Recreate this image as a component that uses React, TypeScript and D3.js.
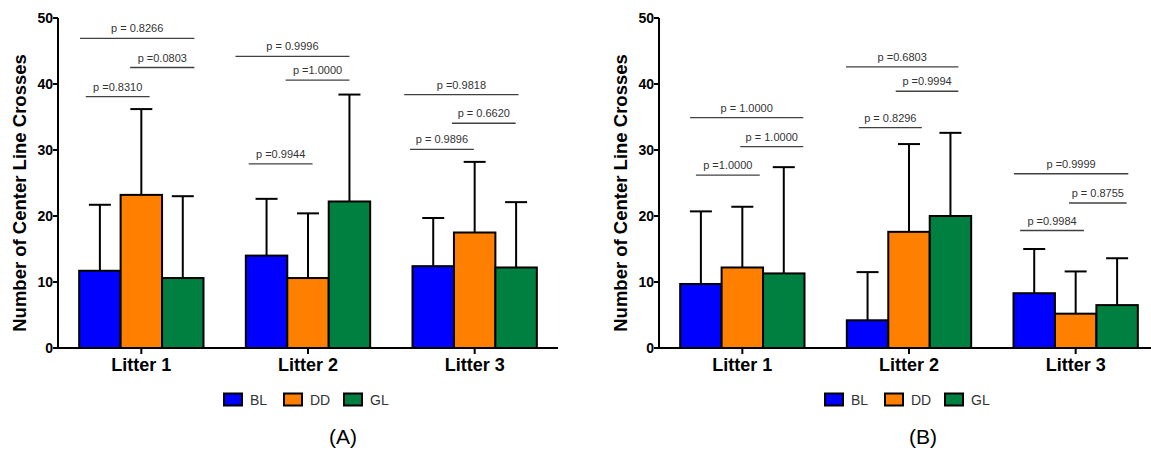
import React from 'react';
import * as d3 from 'd3';

const litters = ['Litter 1', 'Litter 2', 'Litter 3'];
const seriesNames = ['BL', 'DD', 'GL'];
const seriesColors = ['#0000ff', '#ff8000', '#008040'];
const yTicks = [0, 10, 20, 30, 40, 50];

// Panel A (means and SD per series across litters)
const blMeanA = [11.7, 14.0, 12.4];
const ddMeanA = [23.2, 10.6, 17.5];
const glMeanA = [10.6, 22.2, 12.2];
const blSdA = [10.0, 8.6, 7.3];
const ddSdA = [13.0, 9.8, 10.7];
const glSdA = [12.4, 16.2, 9.9];

// Panel B
const blMeanB = [9.7, 4.2, 8.3];
const ddMeanB = [12.2, 17.6, 5.2];
const glMeanB = [11.3, 20.0, 6.5];
const blSdB = [11.0, 7.3, 6.7];
const ddSdB = [9.2, 13.3, 6.4];
const glSdB = [16.1, 12.6, 7.1];

// significance annotations: litter index, span in bar-width units from group start, y in data units
const annotA = [
  { litter: 0, x0: 0.02, x1: 2.78, y: 46.9, label: 'p = 0.8266' },
  { litter: 0, x0: 1.23, x1: 2.78, y: 42.5, label: 'p =0.0803' },
  { litter: 0, x0: 0.16, x1: 1.70, y: 38.1, label: 'p =0.8310' },
  { litter: 1, x0: -0.25, x1: 2.5, y: 44.2, label: 'p = 0.9996' },
  { litter: 1, x0: 0.96, x1: 2.5, y: 40.6, label: 'p =1.0000' },
  { litter: 1, x0: 0.07, x1: 1.61, y: 27.9, label: 'p =0.9944' },
  { litter: 2, x0: -0.2, x1: 2.56, y: 38.4, label: 'p =0.9818' },
  { litter: 2, x0: 0.95, x1: 2.49, y: 34.05, label: 'p = 0.6620' },
  { litter: 2, x0: -0.06, x1: 1.48, y: 30.1, label: 'p = 0.9896' },
];
const annotB = [
  { litter: 0, x0: 0.24, x1: 2.97, y: 34.9, label: 'p = 1.0000' },
  { litter: 0, x0: 1.45, x1: 2.97, y: 30.5, label: 'p = 1.0000' },
  { litter: 0, x0: 0.38, x1: 1.92, y: 26.2, label: 'p =1.0000' },
  { litter: 1, x0: -0.02, x1: 2.69, y: 42.6, label: 'p =0.6803' },
  { litter: 1, x0: 1.18, x1: 2.69, y: 38.9, label: 'p =0.9994' },
  { litter: 1, x0: 0.29, x1: 1.81, y: 33.4, label: 'p = 0.8296' },
  { litter: 2, x0: 0.01, x1: 2.77, y: 26.4, label: 'p =0.9999' },
  { litter: 2, x0: 1.34, x1: 2.73, y: 21.97, label: 'p = 0.8755' },
  { litter: 2, x0: 0.16, x1: 1.70, y: 17.8, label: 'p =0.9984' },
];

const FONT = 'Arial, "Liberation Sans", sans-serif';

type Annot = { litter: number; x0: number; x1: number; y: number; label: string };

function Panel(props: {
  x0: number;
  means: number[][];
  sds: number[][];
  annots: Annot[];
  caption: string;
  captionX: number;
}) {
  const { x0, means, sds, annots, caption, captionX } = props;
  const top = 18;
  const bottom = 348;
  const width = 500;
  const y = d3.scaleLinear().domain([0, 50]).range([bottom, top]);
  const xg = d3
    .scaleBand<string>()
    .domain(litters)
    .range([x0, x0 + width])
    .paddingInner(0.254)
    .paddingOuter(0.127);
  const xs = d3.scaleBand<string>().domain(seriesNames).range([0, xg.bandwidth()]);
  const bw = xs.bandwidth();
  const capHalf = 11;

  return (
    <g>
      {/* significance annotations */}
      {annots.map((a, i) => {
        const gx = xg(litters[a.litter])!;
        const xa = gx + a.x0 * bw;
        const xb = gx + a.x1 * bw;
        const yy = y(a.y);
        return (
          <g key={'a' + i}>
            <line x1={xa} x2={xb} y1={yy} y2={yy} stroke="#404040" strokeWidth={1.3} />
            <text
              x={(xa + xb) / 2}
              y={yy - 6}
              textAnchor="middle"
              fontFamily={FONT}
              fontSize={11}
              fill="#333"
            >
              {a.label}
            </text>
          </g>
        );
      })}
      {/* error bars */}
      {seriesNames.map((s, si) =>
        litters.map((l, li) => {
          const cx = xg(l)! + xs(s)! + bw / 2;
          const m = means[si][li];
          const t = m + sds[si][li];
          return (
            <g key={'e' + si + li}>
              <line x1={cx} x2={cx} y1={y(m)} y2={y(t)} stroke="#000" strokeWidth={2} />
              <line x1={cx - capHalf} x2={cx + capHalf} y1={y(t)} y2={y(t)} stroke="#000" strokeWidth={2} />
            </g>
          );
        })
      )}
      {/* bars */}
      {seriesNames.map((s, si) =>
        litters.map((l, li) => {
          const bx = xg(l)! + xs(s)!;
          const m = means[si][li];
          return (
            <rect
              key={'b' + si + li}
              x={bx}
              y={y(m)}
              width={bw}
              height={y(0) - y(m)}
              fill={seriesColors[si]}
              stroke="#000"
              strokeWidth={2}
            />
          );
        })
      )}
      {/* y axis */}
      <line x1={x0} x2={x0} y1={top} y2={bottom + 1} stroke="#000" strokeWidth={2} />
      {yTicks.map((t) => (
        <g key={'yt' + t}>
          <line x1={x0 - 5} x2={x0} y1={y(t)} y2={y(t)} stroke="#000" strokeWidth={2} />
          <text
            x={x0 - 5}
            y={y(t)}
            dy="0.36em"
            textAnchor="end"
            fontFamily={FONT}
            fontWeight="bold"
            fontSize={14}
            fill="#000"
          >
            {t}
          </text>
        </g>
      ))}
      <text
        transform={`translate(${x0 - 32},193) rotate(-90)`}
        textAnchor="middle"
        fontFamily={FONT}
        fontWeight="bold"
        fontSize={18.5}
        fill="#000"
      >
        Number of Center Line Crosses
      </text>
      {/* x axis */}
      <line x1={x0 - 1} x2={x0 + width} y1={bottom} y2={bottom} stroke="#000" strokeWidth={2} />
      {litters.map((l) => {
        const cx = xg(l)! + xg.bandwidth() / 2;
        return (
          <g key={'xt' + l}>
            <line x1={cx} x2={cx} y1={bottom} y2={bottom + 6} stroke="#000" strokeWidth={2} />
            <text
              x={cx}
              y={bottom + 23}
              textAnchor="middle"
              fontFamily={FONT}
              fontWeight="bold"
              fontSize={18}
              fill="#000"
            >
              {l}
            </text>
          </g>
        );
      })}
      {/* legend */}
      {seriesNames.map((s, si) => {
        const lx = x0 + 166 + si * 60;
        return (
          <g key={'lg' + s}>
            <rect x={lx} y={393.5} width={18} height={12} fill={seriesColors[si]} stroke="#000" strokeWidth={2} />
            <text x={lx + 26} y={404.5} fontFamily={FONT} fontSize={14} fill="#333">
              {s}
            </text>
          </g>
        );
      })}
      <text x={captionX} y={444} textAnchor="middle" fontFamily={FONT} fontSize={21} fill="#000">
        {caption}
      </text>
    </g>
  );
}

export default function App() {
  return (
    <svg
      width={1151}
      height={450}
      style={{ position: 'absolute', left: 0, top: 0, background: '#fff' }}
    >
      <rect x={0} y={0} width={1151} height={450} fill="#fff" />
      <Panel
        x0={58}
        means={[blMeanA, ddMeanA, glMeanA]}
        sds={[blSdA, ddSdA, glSdA]}
        annots={annotA}
        caption="(A)"
        captionX={343}
      />
      <Panel
        x0={659}
        means={[blMeanB, ddMeanB, glMeanB]}
        sds={[blSdB, ddSdB, glSdB]}
        annots={annotB}
        caption="(B)"
        captionX={923}
      />
    </svg>
  );
}
